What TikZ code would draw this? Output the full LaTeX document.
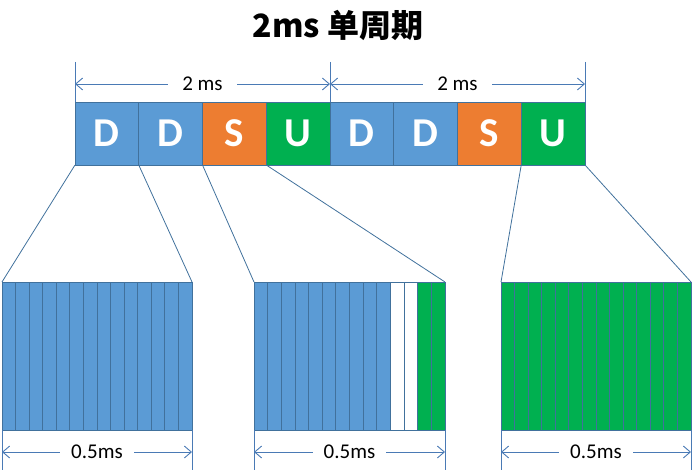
\documentclass[tikz,border=0pt]{standalone}
\usepackage{fontspec}
\setmainfont{Carlito}
\newfontfamily\cjk{Noto Sans CJK SC}
\usetikzlibrary{arrows.meta,calc}
\definecolor{blueF}{HTML}{5B9BD5}
\definecolor{orangeF}{HTML}{ED7D31}
\definecolor{greenF}{HTML}{00B050}
\definecolor{edgec}{HTML}{41719C}
\definecolor{dimc}{HTML}{4A7AB5}
\begin{document}
\begin{tikzpicture}[x=1pt,y=-1pt,
  slot/.style={draw=edgec, line width=0.8pt, minimum width=63.75pt, minimum height=63pt,
    inner sep=0pt, outer sep=0pt, anchor=north west, text=white,
    font=\fontsize{41}{41}\selectfont\bfseries},
  frame/.style={minimum height=148pt, inner sep=0pt, outer sep=0pt, anchor=north west},
  stripe/.style={draw=edgec, line width=0.8pt},
  conn/.style={draw=edgec, line width=0.8pt},
  dimline/.style={draw=dimc, line width=0.9pt},
  dimarrow/.style={dimline, {Straight Barb[length=7pt,width=12pt]}-{Straight Barb[length=7pt,width=12pt]}},
  dimlabel/.style={fill=white, inner ysep=2pt, font=\fontsize{21}{21}\selectfont}
]
\useasboundingbox (0,0) rectangle (700,470);
% title
\node[font=\cjk\bfseries\fontsize{32}{32}\selectfont] (title) at (338,25) {2ms 单周期};
% top slots
\foreach \i/\c/\t in {0/blueF/D,1/blueF/D,2/orangeF/S,3/greenF/U,4/blueF/D,5/blueF/D,6/orangeF/S,7/greenF/U}
  \node[slot, fill=\c] (s\i) at ({75+\i*63.75},102) {\t};
% expanded frames
\node[frame, minimum width=190pt] (e1) at (2,282) {};
\node[frame, minimum width=191pt] (e2) at (254,282) {};
\node[frame, minimum width=190pt] (e3) at (501,282) {};
\foreach \k in {0,...,13}
  \draw[stripe, fill=blueF] ({2+\k*190/14},282) rectangle ++({190/14},148);
\foreach \k/\c in {0/blueF,1/blueF,2/blueF,3/blueF,4/blueF,5/blueF,6/blueF,7/blueF,8/blueF,9/blueF,10/white,11/white,12/greenF,13/greenF}
  \draw[stripe, fill=\c] ({254+\k*191/14},282) rectangle ++({191/14},148);
\foreach \k in {0,...,13}
  \draw[stripe, fill=greenF] ({501+\k*190/14},282) rectangle ++({190/14},148);
% connectors
\draw[conn] (s0.south west) -- (e1.north west);
\draw[conn] (s1.south west) -- (e1.north east);
\draw[conn] (s2.south west) -- (e2.north west);
\draw[conn] (s3.south west) -- (e2.north east);
\draw[conn] (s7.south west) -- (e3.north west);
\draw[conn] (s7.south east) -- (e3.north east);
% top dimensions
\coordinate (t0) at (75,62);
\coordinate (t1) at (330,62);
\coordinate (t2) at (585,62);
\draw[dimline] (t0) -- (s0.north west);
\draw[dimline] (t1) -- (s4.north west);
\draw[dimline] (t2) -- (s7.north east);
\coordinate (a0) at (75,84);
\coordinate (a1) at (330,84);
\coordinate (a2) at (585,84);
\draw[dimarrow] (a0) -- (a1) node[midway, dimlabel, inner xsep=14pt] {2 ms};
\draw[dimarrow] (a1) -- (a2) node[midway, dimlabel, inner xsep=14pt] {2 ms};
% bottom dimensions
\foreach \e in {e1,e2,e3} {
  \coordinate (\e bl) at ($(\e.south west)+(0,40)$);
  \coordinate (\e br) at ($(\e.south east)+(0,40)$);
  \coordinate (\e al) at ($(\e.south west)+(0,22)$);
  \coordinate (\e ar) at ($(\e.south east)+(0,22)$);
  \draw[dimline] (\e.south west) -- (\e bl);
  \draw[dimline] (\e.south east) -- (\e br);
  \draw[dimarrow] (\e al) -- (\e ar) node[midway, dimlabel, inner xsep=11pt] {0.5ms};
}
\end{tikzpicture}
\end{document}
